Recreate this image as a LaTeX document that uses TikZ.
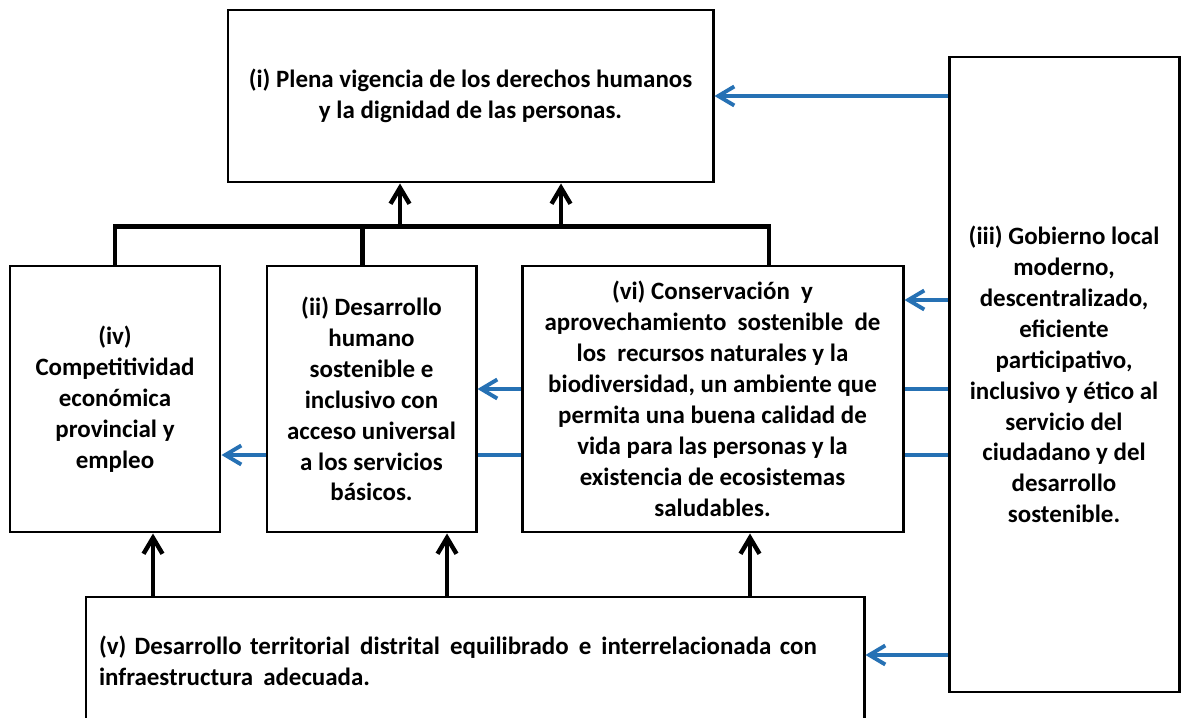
\documentclass[tikz,border=0pt]{standalone}
\usepackage{fontspec}
\setmainfont{Carlito}
\usetikzlibrary{arrows.meta, positioning, calc}

\definecolor{feedblue}{RGB}{38,113,180}

\tikzset{
    box/.style={draw=black, line width=1.7pt, fill=white, rectangle, align=center, font=\bfseries\fontsize{14.2}{17.6}\selectfont},
    bus/.style={draw=black, line width=2.5pt},
    up/.style={bus, -{Straight Barb[length=3.2mm, width=3.8mm]}},
    link/.style={draw=feedblue, line width=2.2pt},
    feed/.style={link, -{Straight Barb[length=3.2mm, width=3.8mm]}}
}

\begin{document}
\begin{tikzpicture}
    		\clip (0,0) rectangle (23.62,14.34);
    		\fill[white] (0,0) rectangle (23.62,14.34);

    		% (i) top box
    		\node (Derechos) at (9.41,12.42) [box, minimum width=9.7cm, minimum height=3.44cm]{(i) Plena vigencia de los derechos humanos\\y la dignidad de las personas.};

    		% (iii) right box
    		\node (Gobierno) at (21.28,6.85) [box, minimum width=4.6cm, minimum height=12.7cm]{(iii) Gobierno local\\moderno,\\descentralizado,\\eficiente\\participativo,\\inclusivo y ético al\\servicio del\\ciudadano y del\\desarrollo\\sostenible.};

    		% middle row
    		\node (Competitividad) at (2.30,6.36) [box, minimum width=4.2cm, minimum height=5.32cm]{(iv)\\Competitividad\\económica\\provincial y\\empleo};
    		\node (Desarrollo) at (7.43,6.36) [box, minimum width=4.18cm, minimum height=5.32cm]{(ii) Desarrollo\\humano\\sostenible e\\inclusivo con\\acceso universal\\a los servicios\\básicos.};
    		\node (Conservacion) at (14.25,6.36) [box, minimum width=7.62cm, minimum height=5.32cm]{(vi) Conservación~ y\\aprovechamiento~ sostenible~ de\\los~ recursos naturales y la\\biodiversidad, un ambiente que\\permita una buena calidad de\\vida para las personas y la\\existencia de ecosistemas\\saludables.};

    		% (v) bottom box
    		\node (Territorial) at (9.50,1.12) [box, align=left, text width=15.04cm, inner xsep=0.26cm, minimum height=2.56cm]{(v) Desarrollo territorial\hspace{1pt} distrital\hspace{1pt} equilibrado\hspace{1pt} e\hspace{1pt} interrelacionada con\\infraestructura\hspace{1pt} adecuada.};

    		%%%%%%%%%%%%%%%%%%%
    		% black bus to (i)
    		\coordinate (Bus) at ($(Desarrollo.north)+(-0.18,0.76)$);
    		\coordinate (BusR) at ($(Conservacion.north)+(1.13,0)$);
    		\draw[bus] (Competitividad.north) -- (Competitividad.north |- Bus) -- (BusR |- Bus) -- (BusR);
    		\draw[bus] (Bus |- Desarrollo.north) -- (Bus);

    		\coordinate (UpA) at ($(Derechos.south)+(-1.41,0)$);
    		\coordinate (UpB) at ($(Derechos.south)+(1.81,0)$);
    		\draw[up] (UpA |- Bus) -- (UpA);
    		\draw[up] (UpB |- Bus) -- (UpB);

    		% black arrows from (v)
    		\coordinate (UpIV) at ($(Competitividad.south)+(0.76,0)$);
    		\coordinate (UpII) at ($(Desarrollo.south)+(1.51,0)$);
    		\coordinate (UpVI) at ($(Conservacion.south)+(0.75,0)$);
    		\draw[up] (UpIV |- Territorial.north) -- (UpIV);
    		\draw[up] (UpII |- Territorial.north) -- (UpII);
    		\draw[up] (UpVI |- Territorial.north) -- (UpVI);

    		%%%%%%%%%%%%%%%%%%%
    		% blue arrows from (iii)
    		\draw[feed] (Gobierno.west |- Derechos.east) -- (Derechos.east);

    		\coordinate (FeedVI) at ($(Conservacion.east)+(0,1.98)$);
    		\draw[feed] (FeedVI -| Gobierno.west) -- (FeedVI);

    		\coordinate (LinkA) at ($(Conservacion.east)+(0,0.2)$);
    		\draw[link] (LinkA -| Gobierno.west) -- (LinkA);
    		\draw[feed] (LinkA -| Conservacion.west) -- (LinkA -| Desarrollo.east);

    		\coordinate (LinkB) at ($(Conservacion.east)+(0,-1.12)$);
    		\draw[link] (LinkB -| Gobierno.west) -- (LinkB);
    		\draw[link] (LinkB -| Conservacion.west) -- (LinkB -| Desarrollo.east);
    		\draw[feed] (LinkB -| Desarrollo.west) -- (LinkB -| Competitividad.east);

    		\coordinate (FeedV) at ($(Territorial.east)+(0,0.12)$);
    		\draw[feed] (FeedV -| Gobierno.west) -- (FeedV);
\end{tikzpicture}
\end{document}
